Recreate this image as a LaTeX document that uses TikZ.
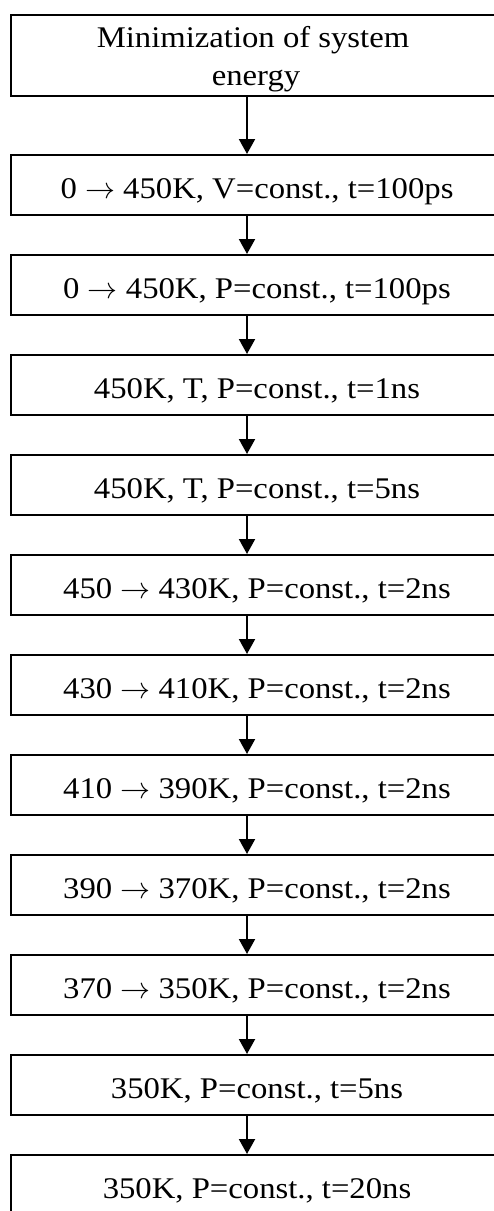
\RequirePackage{fix-cm}
\documentclass[tikz,border=0pt]{standalone}
\usepackage{fontspec}
\setmainfont{Liberation Serif}[FakeStretch=1.09]
\usetikzlibrary{arrows.meta}
\newcommand{\ar}{\ensuremath{\rightarrow}}
\begin{document}
\begin{tikzpicture}[x=1pt,y=-1pt,
  stepbox/.style={draw=black, line width=2pt, minimum width=520pt, minimum height=60pt,
    inner sep=0pt, text height=26pt, text depth=0pt,
    execute at begin node={\hspace*{-28pt}},
    font=\fontsize{30pt}{38pt}\selectfont},
  plain/.style={inner sep=0pt, anchor=base, font=\fontsize{30pt}{38pt}\selectfont},
  flow/.style={line width=2pt, -{Triangle[width=16pt,length=15pt]}}]
\useasboundingbox (0,0) rectangle (494,1211);
\begin{scope}
\clip (0,0) rectangle (494,1211);
\node[stepbox, minimum height=81pt, text height=0pt] (b1) at (271,55.5) {};
\node[plain] (m1) at (253,47) {Minimization of system};
\node[plain] (m2) at (256,85) {energy};
\node[stepbox] (b2) at (271,185) {0 \ar{} 450K, V=const., t=100ps};
\node[stepbox] (b3) at (271,285) {0 \ar{} 450K, P=const., t=100ps};
\node[stepbox] (b4) at (271,385) {450K, T, P=const., t=1ns};
\node[stepbox] (b5) at (271,485) {450K, T, P=const., t=5ns};
\node[stepbox] (b6) at (271,585) {450 \ar{} 430K, P=const., t=2ns};
\node[stepbox] (b7) at (271,685) {430 \ar{} 410K, P=const., t=2ns};
\node[stepbox] (b8) at (271,785) {410 \ar{} 390K, P=const., t=2ns};
\node[stepbox] (b9) at (271,885) {390 \ar{} 370K, P=const., t=2ns};
\node[stepbox] (b10) at (271,985) {370 \ar{} 350K, P=const., t=2ns};
\node[stepbox] (b11) at (271,1085) {350K, P=const., t=5ns};
\node[stepbox] (b12) at (271,1185) {350K, P=const., t=20ns};
\foreach \a/\b in {b1/b2,b2/b3,b3/b4,b4/b5,b5/b6,b6/b7,b7/b8,b8/b9,b9/b10,b10/b11,b11/b12}
  \draw[flow] ([xshift=-24pt]\a.south) -- ([xshift=-24pt]\b.north);
\end{scope}
\end{tikzpicture}
\end{document}
